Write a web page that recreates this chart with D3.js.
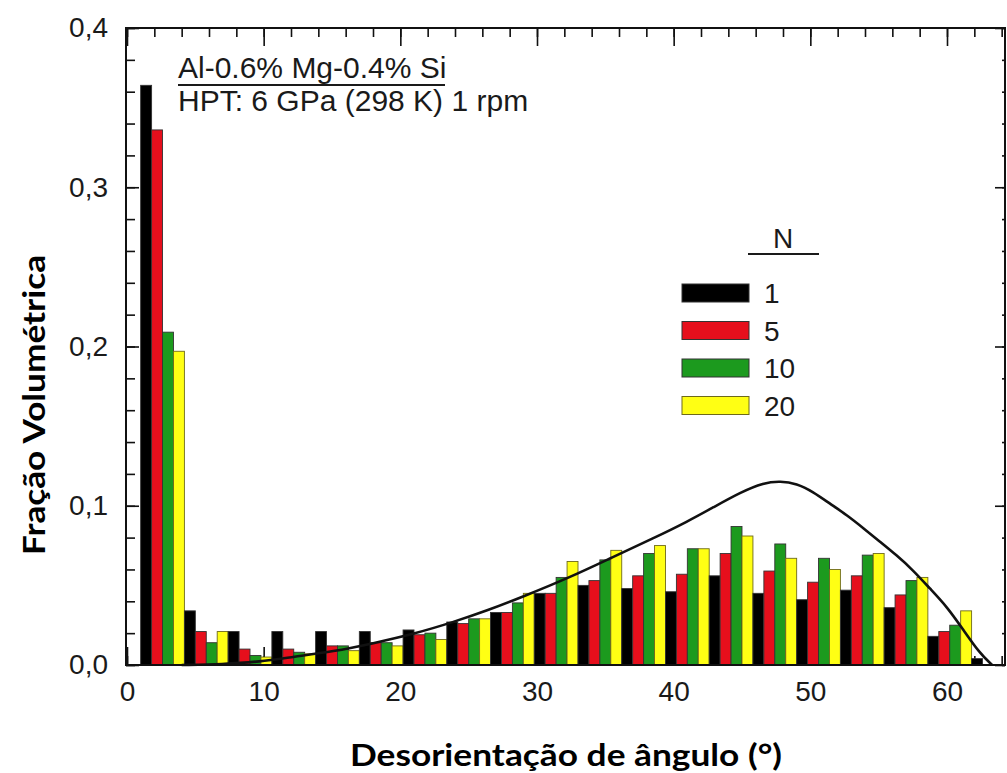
<!DOCTYPE html>
<html>
<head>
<meta charset="utf-8">
<script src="https://cdn.jsdelivr.net/npm/d3@7"></script>
<style>
body { margin: 0; background: #fff; }
svg { display: block; }
</style>
</head>
<body>
<svg width="1007" height="773"></svg>
<script>
// bins (lower edge of each misorientation bin, degrees)
const binStart = [1.0, 4.2, 7.4, 10.6, 13.8, 17.0, 20.2, 23.4, 26.6, 29.8, 33.0, 36.2, 39.4, 42.6, 45.8, 49.0, 52.2, 55.4, 58.6, 61.8];
const binWidth = 3.2;

const seriesNames = ['1', '5', '10', '20'];
const seriesColors = ['#000000', '#e60f1c', '#1c9a1e', '#ffff14'];

// volume fraction per bin for N = 1, 5, 10, 20
const fracN1  = [0.364, 0.034, 0.021, 0.021, 0.021, 0.021, 0.022, 0.027, 0.033, 0.045, 0.050, 0.048, 0.046, 0.056, 0.045, 0.041, 0.047, 0.036, 0.018, 0.004];
const fracN5  = [0.336, 0.021, 0.010, 0.010, 0.012, 0.014, 0.019, 0.026, 0.033, 0.045, 0.053, 0.056, 0.057, 0.070, 0.059, 0.052, 0.056, 0.044, 0.021, 0];
const fracN10 = [0.209, 0.014, 0.006, 0.008, 0.012, 0.014, 0.020, 0.029, 0.039, 0.055, 0.066, 0.070, 0.073, 0.087, 0.076, 0.067, 0.069, 0.053, 0.025, 0];
const fracN20 = [0.197, 0.021, 0.005, 0.007, 0.009, 0.012, 0.016, 0.029, 0.045, 0.065, 0.072, 0.075, 0.073, 0.081, 0.067, 0.060, 0.070, 0.055, 0.034, 0];

// random (Mackenzie) curve
const curveAngle = [4, 7, 9.7, 12.2, 15.1, 18.0, 21.0, 23.9, 26.3, 29.0, 32.4, 35.6, 38.5, 41.0, 42.9, 44.9, 46.6, 47.8, 49.0, 50.2, 51.4, 52.7, 53.9, 55.1, 56.3, 57.5, 58.75, 60.0, 61.2, 62.4, 63.3];
const curveValue = [0, 0.0005, 0.002, 0.0052, 0.0084, 0.0136, 0.0195, 0.027, 0.034, 0.043, 0.055, 0.068, 0.0795, 0.090, 0.099, 0.1085, 0.1145, 0.1155, 0.114, 0.1088, 0.1015, 0.094, 0.0858, 0.0774, 0.069, 0.0597, 0.048, 0.0366, 0.022, 0.0073, 0];

const xTickLabels = [0, 10, 20, 30, 40, 50, 60];
const yTickLabels = [0, 0.1, 0.2, 0.3, 0.4];

const svg = d3.select('svg');
const plotLeft = 126, plotRight = 1005, plotTop = 28, plotBottom = 665;
const numFont = '"Liberation Sans", Arial, sans-serif';
const titleFont = 'Lato, "Open Sans", sans-serif';

const x = d3.scaleLinear().domain([0, 60]).range([127, 947]);
const y = d3.scaleLinear().domain([0, 0.4]).range([plotBottom, plotTop]);
const xBin = d3.scaleBand()
    .domain(binStart)
    .range([x(binStart[0]), x(binStart[0] + binStart.length * binWidth)]);
const xSeries = d3.scaleBand().domain(seriesNames).range([0, xBin.bandwidth()]);
const color = d3.scaleOrdinal().domain(seriesNames).range(seriesColors);

const comma = v => d3.format('.1f')(v).replace('.', ',');

function tickAxis(axis, tx, ty, vals, size) {
    svg.append('g')
        .attr('transform', `translate(${tx},${ty})`)
        .call(axis.tickValues(vals).tickSize(size).tickFormat(''))
        .call(g => g.select('.domain').remove())
        .selectAll('line')
        .attr('stroke', '#111')
        .attr('stroke-width', 1.6);
}

const minorX = d3.range(0, 65, 2);
const minorY = d3.range(0, 0.401, 0.02);

// bottom ticks sit behind the bars
tickAxis(d3.axisTop(x), 0, plotBottom, minorX, 9);
tickAxis(d3.axisTop(x), 0, plotBottom, xTickLabels, 18);

// bars
const rows = [];
binStart.forEach((b, i) => {
    rows.push({bin: b, s: '1', v: fracN1[i]});
    rows.push({bin: b, s: '5', v: fracN5[i]});
    rows.push({bin: b, s: '10', v: fracN10[i]});
    rows.push({bin: b, s: '20', v: fracN20[i]});
});

svg.append('g')
    .selectAll('rect')
    .data(rows.filter(d => d.v > 0))
    .join('rect')
    .attr('x', d => xBin(d.bin) + xSeries(d.s))
    .attr('y', d => y(d.v))
    .attr('width', xSeries.bandwidth())
    .attr('height', d => y(0) - y(d.v))
    .attr('fill', d => color(d.s))
    .attr('stroke', d => d.s === '20' ? '#6e6a1a' : '#333')
    .attr('stroke-width', 0.9);

// Mackenzie curve
const line = d3.line()
    .x((d, i) => x(curveAngle[i]))
    .y(d => y(d))
    .curve(d3.curveBasis);

svg.append('path')
    .datum(curveValue)
    .attr('fill', 'none')
    .attr('stroke', '#111')
    .attr('stroke-width', 2.6)
    .attr('d', line);

// frame + inward ticks
tickAxis(d3.axisBottom(x), 0, plotTop, minorX, 9);
tickAxis(d3.axisBottom(x), 0, plotTop, xTickLabels, 18);
tickAxis(d3.axisRight(y), plotLeft, 0, minorY, 9);
tickAxis(d3.axisRight(y), plotLeft, 0, yTickLabels, 13);
tickAxis(d3.axisLeft(y), plotRight, 0, minorY, 3);
tickAxis(d3.axisLeft(y), plotRight, 0, yTickLabels, 10);

svg.append('rect')
    .attr('x', plotLeft)
    .attr('y', plotTop)
    .attr('width', plotRight - plotLeft)
    .attr('height', plotBottom - plotTop)
    .attr('fill', 'none')
    .attr('stroke', '#111')
    .attr('stroke-width', 2);

// tick labels
svg.append('g')
    .attr('transform', `translate(${plotLeft},0)`)
    .call(d3.axisLeft(y).tickValues(yTickLabels).tickSize(0).tickPadding(18).tickFormat(comma))
    .call(g => g.select('.domain').remove())
    .selectAll('text')
    .attr('font-family', numFont)
    .attr('font-size', 28)
    .attr('fill', '#1a1a1a');

svg.append('g')
    .attr('transform', `translate(0,${plotBottom})`)
    .call(d3.axisBottom(x).tickValues(xTickLabels).tickSize(0).tickPadding(16).tickFormat(d3.format('d')))
    .call(g => g.select('.domain').remove())
    .selectAll('text')
    .attr('font-family', numFont)
    .attr('font-size', 28)
    .attr('fill', '#1a1a1a');

// axis titles
svg.append('text')
    .attr('transform', 'translate(45,405) rotate(-90)')
    .attr('text-anchor', 'middle')
    .attr('font-family', titleFont)
    .attr('font-weight', 'bold')
    .attr('font-size', 31)
    .attr('textLength', 300)
    .attr('lengthAdjust', 'spacingAndGlyphs')
    .text('Fração Volumétrica');

svg.append('text')
    .attr('x', 566)
    .attr('y', 766)
    .attr('text-anchor', 'middle')
    .attr('font-family', titleFont)
    .attr('font-weight', 'bold')
    .attr('font-size', 31)
    .attr('textLength', 432)
    .attr('lengthAdjust', 'spacingAndGlyphs')
    .text('Desorientação de ângulo (°)');

// annotation
svg.append('text')
    .attr('x', 178).attr('y', 78)
    .attr('font-family', numFont).attr('font-size', 30).attr('fill', '#1a1a1a')
    .text('Al-0.6% Mg-0.4% Si');
svg.append('line')
    .attr('x1', 178).attr('x2', 445).attr('y1', 85).attr('y2', 85)
    .attr('stroke', '#1a1a1a').attr('stroke-width', 2);
svg.append('text')
    .attr('x', 178).attr('y', 111)
    .attr('font-family', numFont).attr('font-size', 30).attr('fill', '#1a1a1a')
    .text('HPT: 6 GPa (298 K) 1 rpm');

// legend
const legend = svg.append('g').attr('transform', 'translate(682,284)');
legend.append('text')
    .attr('x', 101).attr('y', -36)
    .attr('text-anchor', 'middle')
    .attr('font-family', numFont).attr('font-size', 28).attr('fill', '#1a1a1a')
    .text('N');
legend.append('line')
    .attr('x1', 66).attr('x2', 137).attr('y1', -30).attr('y2', -30)
    .attr('stroke', '#1a1a1a').attr('stroke-width', 2);

const item = legend.selectAll('g.item')
    .data(seriesNames)
    .join('g')
    .attr('class', 'item')
    .attr('transform', (d, i) => `translate(0,${i * 37.5})`);
item.append('rect')
    .attr('width', 67).attr('height', 18)
    .attr('fill', d => color(d))
    .attr('stroke', d => d === '20' ? '#6e6a1a' : '#333')
    .attr('stroke-width', 1);
item.append('text')
    .attr('x', 82).attr('y', 19)
    .attr('font-family', numFont).attr('font-size', 28).attr('fill', '#1a1a1a')
    .text(d => d);
</script>
</body>
</html>
